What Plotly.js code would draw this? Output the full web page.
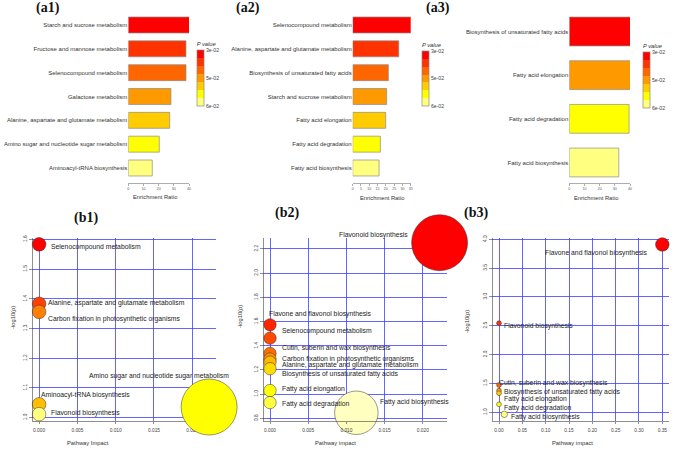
<!DOCTYPE html>
<html><head><meta charset="utf-8">
<script src="https://cdn.plot.ly/plotly-3.0.1.min.js"></script>
<style>html,body{margin:0;padding:0;background:#fff}#chart{width:676px;height:449px}</style>
</head><body><div id="chart"></div>
<script>
// ---------------- data ----------------
const a1Pathways = ['Starch and sucrose metabolism','Fructose and mannose metabolism','Selenocompound metabolism','Galactose metabolism','Alanine, aspartate and glutamate metabolism','Amino sugar and nucleotide sugar metabolism','Aminoacyl-tRNA biosynthesis'];
const a1Enrichment = [42.9, 38.0, 38.0, 28.1, 27.3, 20.4, 15.8];
const a1PValue = [0.027, 0.032, 0.038, 0.044, 0.049, 0.055, 0.062];

const a2Pathways = ['Selenocompound metabolism','Alanine, aspartate and glutamate metabolism','Biosynthesis of unsaturated fatty acids','Starch and sucrose metabolism','Fatty acid elongation','Fatty acid degradation','Fatty acid biosynthesis'];
const a2Enrichment = [39.0, 27.8, 21.5, 20.5, 19.9, 16.7, 15.9];
const a2PValue = [0.027, 0.032, 0.038, 0.044, 0.049, 0.055, 0.062];

const a3Pathways = ['Biosynthesis of unsaturated fatty acids','Fatty acid elongation','Fatty acid degradation','Fatty acid biosynthesis'];
const a3Enrichment = [42.0, 40.4, 39.4, 32.6];
const a3PValue = [0.027, 0.044, 0.055, 0.062];

const pScaleMin = 0.026, pScaleMid = 0.045, pScaleMax = 0.064;
const pScaleLabels = ['3e-02', '5e-02', '6e-02'];

const b1Pathways = ['Selenocompound metabolism','Alanine, aspartate and glutamate metabolism','Carbon fixation in photosynthetic organisms','Aminoacyl-tRNA biosynthesis','Amino sugar and nucleotide sugar metabolism','Flavonoid biosynthesis'];
const b1Impact = [0, 0, 0, 0, 0.0222, 0];
const b1LogP = [1.583, 1.383, 1.356, 1.045, 1.036, 1.012];

const b2Pathways = ['Flavonoid biosynthesis','Flavone and flavonol biosynthesis','Selenocompound metabolism','Cutin, suberin and wax biosynthesis','Carbon fixation in photosynthetic organisms','Alanine, aspartate and glutamate metabolism','Biosynthesis of unsaturated fatty acids','Fatty acid elongation','Fatty acid degradation','Fatty acid biosynthesis'];
const b2Impact = [0.0222, 0, 0, 0, 0, 0, 0, 0, 0, 0.0113];
const b2LogP = [2.252, 1.573, 1.463, 1.337, 1.29, 1.265, 1.21, 1.03, 0.93, 0.846];

const b3Pathways = ['Flavone and flavonol biosynthesis','Flavonoid biosynthesis','Cutin, suberin and wax biosynthesis','Biosynthesis of unsaturated fatty acids','Fatty acid elongation','Fatty acid degradation','Fatty acid biosynthesis'];
const b3Impact = [0.35, 0, 0, 0, 0, 0, 0.0114];
const b3LogP = [3.91, 2.546, 1.473, 1.375, 1.33, 1.139, 0.965];

// ---------------- helpers ----------------
const W = 676, H = 449;
const px = v => v / W;
const py = v => 1 - v / H;
function hsvToHex(h, s, v) {
  const i = Math.floor(h * 6 + 1e-9), f = h * 6 - i;
  const p = v * (1 - s), q = v * (1 - f * s), t = v * (1 - (1 - f) * s);
  let r, g, b;
  switch (((i % 6) + 6) % 6) {
    case 0: r = v; g = t; b = p; break;
    case 1: r = q; g = v; b = p; break;
    case 2: r = p; g = v; b = t; break;
    case 3: r = p; g = q; b = v; break;
    case 4: r = t; g = p; b = v; break;
    default: r = v; g = p; b = q;
  }
  return '#' + [r, g, b].map(x => Math.round(Math.max(0, Math.min(1, x)) * 255).toString(16).padStart(2, '0')).join('');
}
function heatColors(n) { // R's heat.colors
  const j = Math.floor(n / 4), i = n - j, out = [];
  for (let k = 0; k < i; k++) out.push(hsvToHex(i > 1 ? (k / (i - 1)) / 6 : 0, 1, 1));
  const s0 = 1 - 1 / (2 * j), s1 = 1 / (2 * j);
  for (let k = 0; k < j; k++) out.push(hsvToHex(1 / 6, j > 1 ? s0 + k * (s1 - s0) / (j - 1) : s0, 1));
  return out;
}
const bands = heatColors(7); // top (red) -> bottom (light yellow)
const bandScale = [];
for (let k = 6; k >= 0; k--) {
  bandScale.push([(6 - k) / 7, bands[k]]);
  bandScale.push([(7 - k) / 7, bands[k]]);
}

const FONT = 'Liberation Sans, Arial, sans-serif';
const SERIF = 'Liberation Serif, Times New Roman, serif';
const tickFontSmall = {family: FONT, size: 3.6, color: '#555'};
const tickFont = {family: FONT, size: 4.8, color: '#444'};
const catFont = {family: FONT, size: 6, color: '#333'};
const labelFont = {family: FONT, size: 6.8, color: '#222'};

function barTrace(names, vals, pv, xa, ya, w, cbX, cbTop, cbLen) {
  return {
    type: 'bar', orientation: 'h', x: vals, y: names, xaxis: xa, yaxis: ya, width: w,
    cliponaxis: false, hoverinfo: 'skip',
    marker: {
      color: pv.map(p => -p), colorscale: bandScale, cmin: -pScaleMax, cmax: -pScaleMin,
      line: {color: '#8a8a8a', width: 0.7}, showscale: true,
      colorbar: {
        x: cbX, xanchor: 'left', y: cbTop, yanchor: 'top', lenmode: 'pixels', len: cbLen,
        thickness: 7, thicknessmode: 'pixels', xpad: 0, ypad: 0,
        outlinewidth: 0.7, outlinecolor: '#888', ticks: '', ticklen: 0,
        tickmode: 'array', tickvals: [-pScaleMin - 1e-6, -pScaleMid, -pScaleMax + 1e-6], ticktext: pScaleLabels,
        tickfont: {family: FONT, size: 5.2, color: '#444'},
        title: {text: '<i>P value</i>', side: 'top', font: {family: FONT, size: 5.8, color: '#333'}}
      }
    }
  };
}
function sizes(imp, rMin, rMax) {
  const m = Math.max(...imp);
  return imp.map(v => 2 * (rMin + (rMax - rMin) * Math.sqrt(v / m)));
}
function bubbleTrace(imp, lp, xa, ya, rMin, rMax) {
  return {
    type: 'scatter', mode: 'markers', x: imp, y: lp, xaxis: xa, yaxis: ya, cliponaxis: false, hoverinfo: 'skip',
    marker: {size: sizes(imp, rMin, rMax), sizemode: 'diameter', color: heatColors(imp.length), opacity: 1,
      line: {color: '#333', width: 0.5}}
  };
}
function bubbleLabels(names, xs, ys, offs, xr, yr) {
  return names.map((t, i) => ({
    xref: xr, yref: yr, x: xs[i], y: ys[i], text: t, showarrow: false,
    xanchor: offs[i][0], yanchor: 'middle', xshift: offs[i][1], yshift: -offs[i][2],
    font: labelFont, borderpad: 0
  }));
}

const data = [
  barTrace(a1Pathways, a1Enrichment, a1PValue, 'x', 'y', 0.67, px(197), py(39), 67),
  barTrace(a2Pathways, a2Enrichment, a2PValue, 'x2', 'y2', 0.67, px(422.3), py(40), 66),
  barTrace(a3Pathways, a3Enrichment, a3PValue, 'x3', 'y3', 0.66, px(643.3), py(40.7), 67),
  bubbleTrace(b1Impact, b1LogP, 'x4', 'y4', 6.8, 28),
  bubbleTrace(b2Impact, b2LogP, 'x5', 'y5', 6.2, 28),
  bubbleTrace(b3Impact, b3LogP, 'x6', 'y6', 2.4, 6.8)
];

function barX(d0, d1, max, dtick, anchor) {
  return {domain: [px(d0), px(d1)], range: [0, max], tick0: 0, dtick: dtick, anchor: anchor,
    showgrid: false, zeroline: false, showline: true, linecolor: '#777', linewidth: 0.6,
    ticks: 'outside', ticklen: 2, tickwidth: 0.6, tickcolor: '#777', tickfont: tickFontSmall, fixedrange: true};
}
function barY(range, anchor) {
  return {domain: [py(183), py(13)], type: 'category', range: range, autorange: false, anchor: anchor,
    showgrid: false, zeroline: false, showline: false, ticks: '', tickfont: catFont, fixedrange: true};
}
const gridColor = '#3f3fff';
function bubX(d0, d1, range, dtick, fmt, anchor, layer) {
  return {domain: [px(d0), px(d1)], range: range, tick0: 0, dtick: dtick, tickformat: fmt, anchor: anchor,
    showgrid: true, gridcolor: gridColor, gridwidth: 0.8, zeroline: false,
    showline: true, linecolor: '#444', linewidth: 0.6, ticks: 'outside', ticklen: 2.5, tickwidth: 0.6,
    tickcolor: '#444', tickfont: tickFont, ticklabelstandoff: 2, layer: layer || 'above traces', fixedrange: true};
}
function bubY(range, dtick, anchor) {
  return {domain: [py(421), py(237.5)], range: range, tick0: 0, dtick: dtick, tickformat: '.1f', anchor: anchor,
    showgrid: true, gridcolor: gridColor, gridwidth: 0.8, zeroline: false,
    showline: true, linecolor: '#444', linewidth: 0.6, ticks: 'outside', ticklen: 2.5, tickwidth: 0.6,
    tickcolor: '#444', tickfont: tickFont, tickangle: -90, fixedrange: true};
}

function txt(x, y, t, size, opts) {
  return Object.assign({xref: 'paper', yref: 'paper', x: px(x), y: py(y), text: t, showarrow: false,
    xanchor: 'center', yanchor: 'middle', font: {family: FONT, size: size, color: '#333'}, borderpad: 0}, opts || {});
}
const panelFont = {family: SERIF, size: 14, color: '#111', weight: 'bold'};
const annotations = [
  txt(35, 8, '<b>(a1)</b>', 14, {xanchor: 'left', font: panelFont}),
  txt(235, 8, '<b>(a2)</b>', 14, {xanchor: 'left', font: panelFont}),
  txt(425, 8, '<b>(a3)</b>', 14, {xanchor: 'left', font: panelFont}),
  txt(73, 217.5, '<b>(b1)</b>', 14, {xanchor: 'left', font: panelFont}),
  txt(274, 213, '<b>(b2)</b>', 14, {xanchor: 'left', font: panelFont}),
  txt(463, 213, '<b>(b3)</b>', 14, {xanchor: 'left', font: panelFont}),
  txt(155, 197, 'Enrichment Ratio', 5.8),
  txt(382, 198, 'Enrichment Ratio', 5.8),
  txt(596, 197.7, 'Enrichment Ratio', 5.8),
  txt(88, 443, 'Pathway Impact', 5.8),
  txt(335, 443, 'Pathway impact', 5.8),
  txt(572, 443, 'Pathway impact', 5.8),
  txt(13, 318, '-log10(p)', 5.8, {textangle: -90}),
  txt(240, 317, '-log10(p)', 5.8, {textangle: -90}),
  txt(467, 322, '-log10(p)', 5.8, {textangle: -90})
].concat(
  bubbleLabels(b1Pathways, b1Impact, b1LogP,
    [['left', 11, 3], ['left', 8, -1], ['left', 8, 7], ['left', 1, -9], ['right', 21, -31], ['left', 11, -1]], 'x4', 'y4'),
  bubbleLabels(b2Pathways, b2Impact, b2LogP,
    [['right', -31, -8], ['left', -2, -11], ['left', 11, -7], ['left', 11, -5], ['left', 11, 0], ['left', 11, 2.5],
     ['left', 11, 5.6], ['left', 11, -2], ['left', 11, 1], ['left', 23, -11]], 'x5', 'y5'),
  bubbleLabels(b3Pathways, b3Impact, b3LogP,
    [['right', -13, 9], ['left', 3.5, 3], ['left', -1.3, -2], ['left', 3.7, 1], ['left', 3.7, 6], ['left', 3.7, 4], ['left', 5.7, 3]], 'x6', 'y6')
);

const layout = {
  width: W, height: H, margin: {l: 0, r: 0, t: 0, b: 0, pad: 0, autoexpand: false},
  paper_bgcolor: '#fff', plot_bgcolor: 'rgba(0,0,0,0)', showlegend: false,
  font: {family: FONT, color: '#333'},
  xaxis: barX(128.3, 189, 40, 10, 'y'),
  yaxis: barY([6.63, -0.504], 'x'),
  xaxis2: barX(352.7, 410.7, 35, 5, 'y2'),
  yaxis2: barY([6.63, -0.504], 'x2'),
  xaxis3: barX(569.3, 630, 40, 10, 'y3'),
  yaxis3: barY([3.47, -0.424], 'x3'),
  xaxis4: bubX(32.3, 216, [-0.00089, 0.0231], 0.005, '.3f', 'y4', 'below traces'),
  yaxis4: bubY([0.989, 1.606], 0.1, 'x4'),
  xaxis5: bubX(263.3, 446.7, [-0.000877, 0.02313], 0.005, '.3f', 'y5'),
  yaxis5: bubY([0.778, 2.295], 0.2, 'x5'),
  xaxis6: bubX(492.3, 669, [-0.01436, 0.3643], 0.05, '.2f', 'y6'),
  yaxis6: bubY([0.849, 4.031], 0.5, 'x6'),
  annotations: annotations
};

Plotly.newPlot('chart', data, layout, {displayModeBar: false, staticPlot: true});
</script>
</body></html>
